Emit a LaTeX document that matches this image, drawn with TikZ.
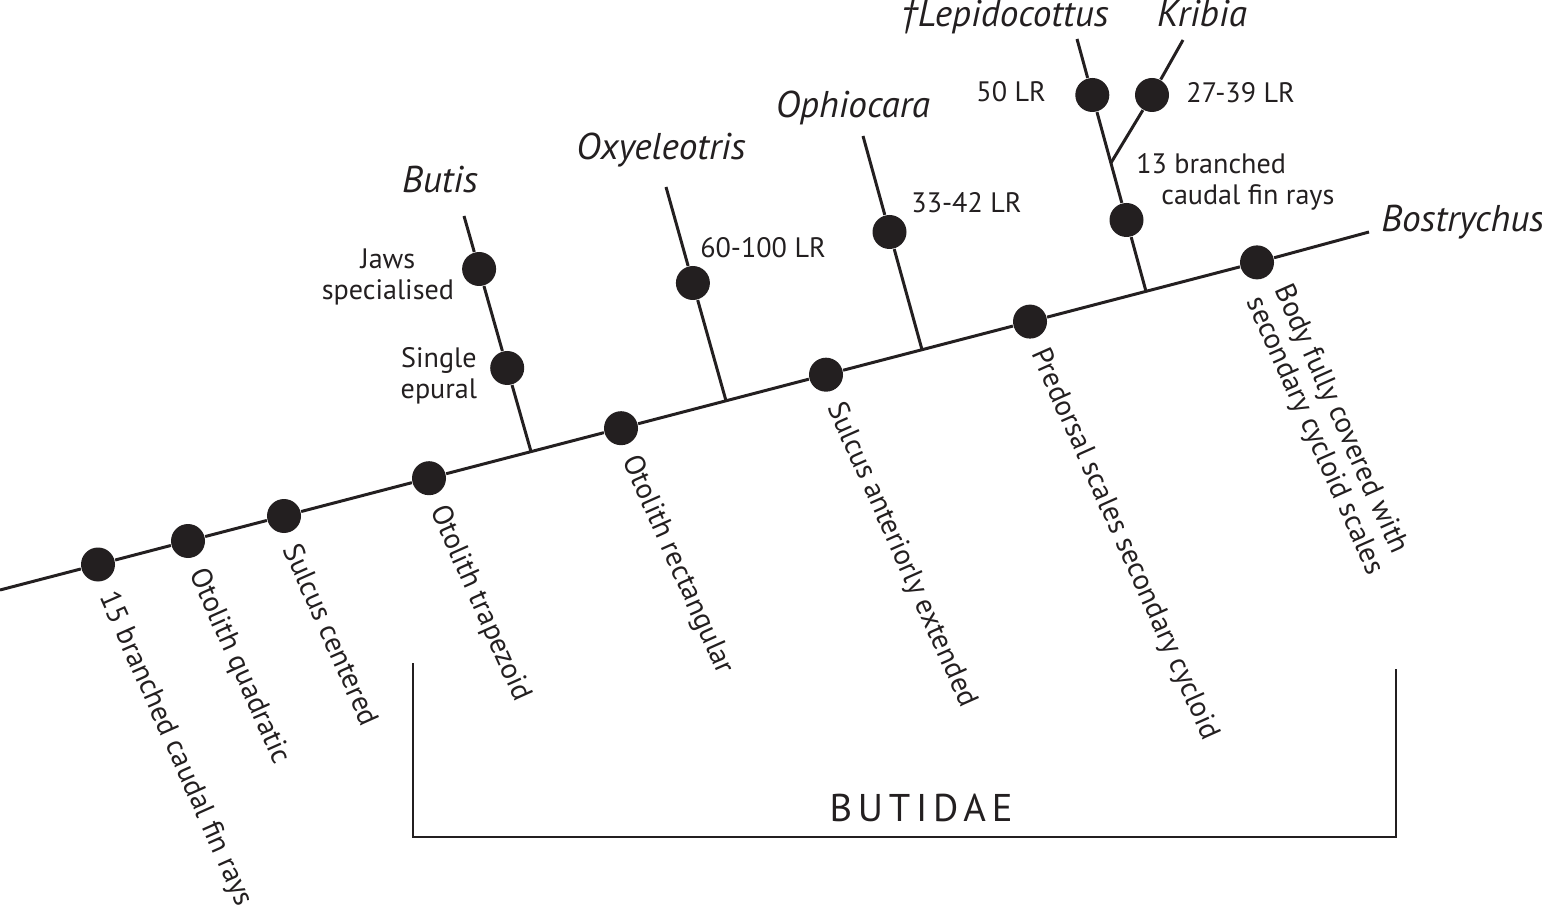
\documentclass[tikz,border=0pt]{standalone}
\usepackage{fontspec}
\setmainfont{PT Sans}
\usetikzlibrary{positioning}
\definecolor{ink}{RGB}{35,31,32}
\tikzset{
	dot/.style={circle, fill=ink, minimum size=0.34cm, inner sep=0pt},
	trait/.style={font=\fontsize{8}{8.7}\selectfont, text=ink, align=center},
	cut/.style={font=\fontsize{8.25}{8.6}\selectfont, text=ink, rotate=-66, anchor=west, align=left},
	taxon/.style={font=\fontsize{10.6}{12}\selectfont\itshape, text=ink},
	stem/.style={draw=ink, line width=0.85pt},
}

\begin{document}
\begin{tikzpicture}
	\useasboundingbox (0,0) rectangle (15.42,9.09);
	% Taxa:
	\node[taxon, anchor=base] (butis) at (4.40, 7.16){Butis};
	\node[taxon, anchor=base] (oxy) at (6.61, 7.49){Oxyeleotris};
	\node[taxon, anchor=base] (ophio) at (8.53, 7.91){Ophiocara};
	\node[taxon, anchor=base east] (lepido) at (11.21, 8.82){\textdagger Lepidocottus};
	\node[taxon, anchor=base] (kribia) at (12.02, 8.82){Kribia};
	\node[taxon, anchor=base west] (bostry) at (13.69, 6.77){Bostrychus};
	% Dots on the main line:
	\coordinate (root) at (0, 3.19);
	\node[dot] (d1) at (0.98, 3.445){};
	\node[dot] (d2) at (1.88, 3.680){};
	\node[dot] (d3) at (2.84, 3.930){};
	\node[dot] (d4) at (4.29, 4.308){};
	\node[dot] (d5) at (6.21, 4.808){};
	\node[dot] (d6) at (8.26, 5.343){};
	\node[dot] (d7) at (10.30, 5.874){};
	\node[dot] (d8) at (12.57, 6.466){};
	\draw[stem] (root) -- (d1) -- (d2) -- (d3) -- (d4) -- (d5) -- (d6) -- (d7) -- (d8) -- (bostry.base west);
	% Branches:
	\coordinate (bbase) at (5.31, 4.574);
	\coordinate (btop) at (4.64, 6.93);
	\node[dot] (b1) at (4.791, 6.40){};
	\node[dot] (b2) at (5.072, 5.41){};
	\draw[stem] (bbase) -- (b2) -- (b1) -- (btop);
	\coordinate (obase) at (7.26, 5.082);
	\coordinate (otop) at (6.66, 7.22);
	\node[dot] (o1) at (6.929, 6.26){};
	\draw[stem] (obase) -- (o1) -- (otop);
	\coordinate (pbase) at (9.22, 5.593);
	\coordinate (ptop) at (8.63, 7.73);
	\node[dot] (p1) at (8.895, 6.77){};
	\draw[stem] (pbase) -- (p1) -- (ptop);
	\coordinate (lbase) at (11.46, 6.176);
	\coordinate (ljoin) at (11.109, 7.46);
	\coordinate (ltop) at (10.77, 8.70);
	\coordinate (ktop) at (11.83, 8.69);
	\node[dot] (l2) at (11.265, 6.89){};
	\node[dot] (l1) at (10.923, 8.14){};
	\node[dot] (k1) at (11.52, 8.14){};
	\draw[stem] (lbase) -- (l2) -- (ljoin) -- (l1) -- (ltop);
	\draw[stem] (ljoin) -- (k1) -- (ktop);
	% Characters on the branches:
	\node[trait, anchor=east] (jaws) at ([shift={(0.05,-0.08)}]b1.west){Jaws\\specialised};
	\node[trait, anchor=east] (epural) at ([shift={(0.0,-0.08)}]b2.west){Single\\epural};
	\node[trait, anchor=base west] (lr1) at ([shift={(-0.05,0.25)}]o1){60-100 LR};
	\node[trait, anchor=base west] (lr2) at ([shift={(0.095,0.19)}]p1){33-42 LR};
	\node[trait, anchor=base east] (lr3) at ([shift={(-0.34,-0.07)}]l1){50 LR};
	\node[trait, anchor=base west] (lr4) at ([shift={(0.22,-0.08)}]k1){27-39 LR};
	\node[trait, anchor=north west, align=left] (rays13) at ([shift={(0.13,0.22)}]ljoin){13 branched\\\hspace*{0.25cm}caudal fin rays};
	% Characters on the main line:
	\node[cut] (c1) at ([shift={(0.03,-0.18)}]d1){15 branched caudal fin rays};
	\node[cut] (c2) at ([shift={(0.03,-0.18)}]d2){Otolith quadratic};
	\node[cut] (c3) at ([shift={(0.03,-0.18)}]d3){Sulcus centered};
	\node[cut] (c4) at ([shift={(0.03,-0.18)}]d4){Otolith trapezoid};
	\node[cut] (c5) at ([shift={(0.03,-0.18)}]d5){Otolith rectangular};
	\node[cut] (c6) at ([shift={(0.03,-0.18)}]d6){Sulcus anteriorly extended};
	\node[cut] (c7) at ([shift={(0.03,-0.18)}]d7){Predorsal scales secondary cycloid};
	\node[cut] (c8) at ([shift={(0.05,-0.19)}]d8){Body fully covered with\\secondary cycloid scales};
	% Family bracket:
	\coordinate (fa) at (4.13, 2.46);
	\coordinate (fb) at (4.13, 0.72);
	\coordinate (fc) at (13.96, 0.72);
	\coordinate (fd) at (13.96, 2.40);
	\draw[draw=ink, line width=0.75pt] (fa) -- (fb) -- (fc) -- (fd);
	\node[font=\fontsize{11}{12}\selectfont\addfontfeature{LetterSpace=15}, text=ink] (fam) at (9.21, 1.01){BUTIDAE};
\end{tikzpicture}
\end{document}
